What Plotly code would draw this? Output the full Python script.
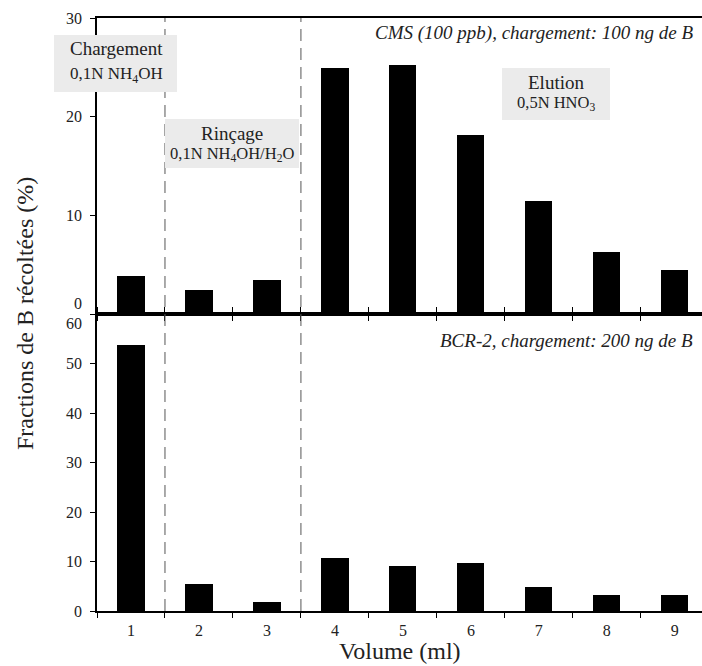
import plotly.graph_objects as go

volumes = [1, 2, 3, 4, 5, 6, 7, 8, 9]
cms_values = [3.9, 2.4, 3.4, 24.9, 25.2, 18.1, 11.5, 6.3, 4.5]
bcr_values = [53.7, 5.5, 1.8, 10.7, 9.1, 9.7, 4.8, 3.2, 3.2]
top_ticks = [0, 10, 20, 30]
bottom_ticks = [0, 10, 20, 30, 40, 50, 60]
phase_bounds = [1.5, 3.5]
boundary_ticks = [0.5, 1.5, 2.5, 3.5, 4.5, 5.5, 6.5, 7.5, 8.5, 9.5]

FONT = "Liberation Serif, Times New Roman, Times, serif"
W, H = 702, 666
L, R, T, B = 97, 0, 18, 55
PW, PH = W - L - R, H - T - B
split = (611 - 314) / PH


def px(xp):
    return (xp - L) / PW


def py(yp):
    return (H - B - yp) / PH


fig = go.Figure()
fig.add_trace(go.Bar(x=volumes, y=cms_values, width=0.4, marker=dict(color="black", line=dict(width=0)),
                     xaxis="x", yaxis="y", showlegend=False))
fig.add_trace(go.Bar(x=volumes, y=bcr_values, width=0.4, marker=dict(color="black", line=dict(width=0)),
                     xaxis="x2", yaxis="y2", showlegend=False))

xcommon = dict(range=[0.5, 9.4], showgrid=False, zeroline=False, showline=True, linecolor="black",
               linewidth=1.5, tickmode="array", tickvals=volumes, ticks="",
               minor=dict(tickmode="array", tickvals=boundary_ticks, ticks="outside", ticklen=5,
                          tickwidth=1, tickcolor="black", showgrid=False),
               tickfont=dict(family=FONT, size=16, color="#222"))

yfont = dict(family=FONT, size=16, color="#222")
fig.update_layout(
    width=W, height=H, margin=dict(l=L, r=R, t=T, b=B),
    plot_bgcolor="white", paper_bgcolor="white", bargap=0,
    xaxis=dict(**xcommon, domain=[0, 1], anchor="y", showticklabels=False, mirror=True),
    yaxis=dict(domain=[split, 1], range=[0, 30], anchor="x", showgrid=False, zeroline=False,
               showline=True, linecolor="black", linewidth=1.5, tickmode="array", tickvals=top_ticks,
               ticktext=[" ", "10", "20", "30"], ticks="outside", ticklen=5, tickcolor="black",
               ticklabelstandoff=5, tickfont=yfont),
    xaxis2=dict(**xcommon, domain=[0, 1], anchor="y2", matches="x", mirror="ticks",
                ticklabelstandoff=4),
    yaxis2=dict(domain=[0, split], range=[0, 60], anchor="x2", showgrid=False, zeroline=False,
                showline=True, linecolor="black", linewidth=1.5, tickmode="array", tickvals=bottom_ticks,
                ticktext=["0", "10", "20", "30", "40", "50", " "], ticks="outside", ticklen=5,
                tickcolor="black", ticklabelstandoff=5, tickfont=yfont),
)

# phase separators
for xb in phase_bounds:
    fig.add_shape(type="line", xref="x", yref="paper", x0=xb, x1=xb, y0=0, y1=1,
                  line=dict(color="#555", width=1, dash="12px,7px"), layer="above")

# grey boxes
boxes = [(54, 177, 35, 92), (165, 299, 119, 168), (502, 610, 68, 120)]
for x0, x1, y0, y1 in boxes:
    fig.add_shape(type="rect", xref="paper", yref="paper", x0=px(x0), x1=px(x1), y0=py(y1), y1=py(y0),
                  fillcolor="#ebebeb", line=dict(width=0), layer="above")

ann = []


def txt(text, xp, yp, size, xanchor="center", italic=False, angle=0):
    ann.append(dict(text=f"<i>{text}</i>" if italic else text, x=px(xp), y=py(yp), xref="paper", yref="paper",
                    xanchor=xanchor, yanchor="middle", showarrow=False, textangle=angle,
                    font=dict(family=FONT, size=size, color="#222")))


txt("Chargement", 116, 49, 19)
txt("0,1N NH<sub>4</sub>OH", 116, 75, 17)
txt("Rinçage", 232, 133, 19)
txt("0,1N NH<sub>4</sub>OH/H<sub>2</sub>O", 232, 154, 16.5)
txt("Elution", 556, 83, 19)
txt("0,5N HNO<sub>3</sub>", 556, 103, 16.5)
txt("CMS (100 ppb), chargement: 100 ng de B", 695, 33, 19, xanchor="right", italic=True)
txt("BCR-2, chargement: 200 ng de B", 695, 340, 19, xanchor="right", italic=True)
txt("0", 84, 303, 16, xanchor="right")
txt("60", 84, 323, 16, xanchor="right")
txt("Fractions de B récoltées (%)", 25, 314, 24, angle=-90)
txt("Volume (ml)", 400, 651, 24)
fig.update_layout(annotations=ann)

fig.write_html("out.html", config={"displayModeBar": False},
               post_script="document.body.style.margin='0';document.body.style.padding='0';")
